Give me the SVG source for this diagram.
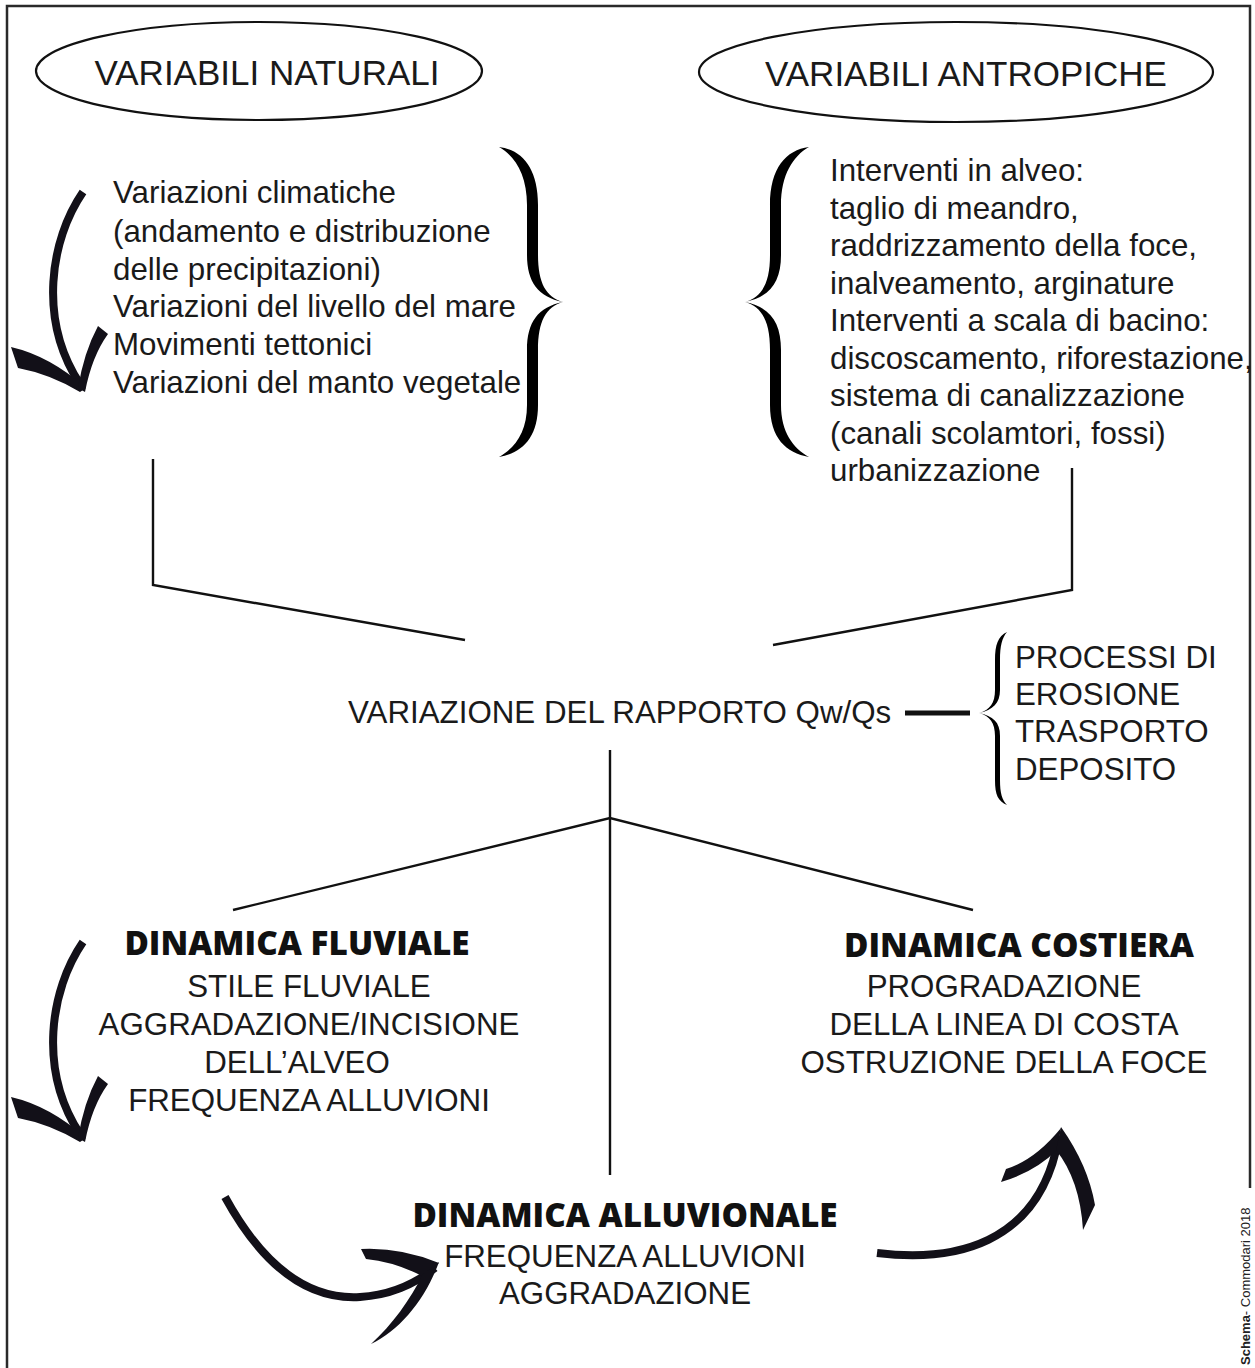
<svg xmlns="http://www.w3.org/2000/svg" width="1255" height="1368" viewBox="0 0 1255 1368">
<style>
.t{font-family:"Liberation Sans",Arial,sans-serif;font-size:31.3px;fill:#1a1a1a}
.c{text-anchor:middle}
.h{font-family:"Open Sans","Liberation Sans",sans-serif;font-weight:800;font-size:33.3px;fill:#111;text-anchor:middle}
.big{font-family:"Liberation Sans",Arial,sans-serif;font-size:35px;fill:#1a1a1a;text-anchor:middle}
.ln{fill:none;stroke:#111;stroke-width:2.4}
.ar{fill:#121018}
.sh{fill:none;stroke:#121018;stroke-width:8}
.br{fill:#000}
</style>
<rect width="1255" height="1368" fill="#fff"/>
<path d="M7 1368 V6 H1250 V1188" fill="none" stroke="#2a2a2a" stroke-width="2.5"/>

<g id="node-naturali">
<ellipse cx="259" cy="71" rx="223" ry="49" fill="none" stroke="#111" stroke-width="2.2"/>
<text class="big" x="267" y="85">VARIABILI NATURALI</text>
</g>
<g id="node-antropiche">
<ellipse cx="956" cy="72" rx="257" ry="50" fill="none" stroke="#111" stroke-width="2.2"/>
<text class="big" x="966" y="86" font-size="37">VARIABILI ANTROPICHE</text>
</g>

<g id="node-naturali-list">
<text class="t" x="113" y="203">Variazioni climatiche</text>
<text class="t" x="113" y="242">(andamento e distribuzione</text>
<text class="t" x="113" y="280">delle precipitazioni)</text>
<text class="t" x="113" y="317">Variazioni del livello del mare</text>
<text class="t" x="113" y="355">Movimenti tettonici</text>
<text class="t" x="113" y="393">Variazioni del manto vegetale</text>
<path class="br" d="M499 147 C522 150 538 168 538 205 L538 255 C538 283 546 297 563 302 C546 307 538 321 538 350 L538 405 C538 438 522 453 499 457 C515 448 527 432 527 405 L527 350 C527 322 538 307 563 302 C538 297 527 282 527 255 L527 205 C527 175 515 156 499 147 Z"/>
<g id="arrow-naturali">
<path class="sh" d="M83 192 C50 240 38 320 80 384"/>
<path class="ar" d="M11 347 Q50 356 86 388 L80 392 Q50 374 18 368 Z"/>
<path class="ar" d="M98 326 L108 334 Q92 356 85 392 L78 388 Q84 352 98 326 Z"/>
</g>
</g>

<g id="node-antropiche-list">
<text class="t" x="830" y="181">Interventi in alveo:</text>
<text class="t" x="830" y="219">taglio di meandro,</text>
<text class="t" x="830" y="256">raddrizzamento della foce,</text>
<text class="t" x="830" y="294">inalveamento, arginature</text>
<text class="t" x="830" y="331">Interventi a scala di bacino:</text>
<text class="t" x="830" y="369">discoscamento, riforestazione,</text>
<text class="t" x="830" y="406">sistema di canalizzazione</text>
<text class="t" x="830" y="444">(canali scolamtori, fossi)</text>
<text class="t" x="830" y="481">urbanizzazione</text>
<path class="br" transform="translate(1308,0) scale(-1,1)" d="M499 147 C522 150 538 168 538 205 L538 255 C538 283 546 297 563 302 C546 307 538 321 538 350 L538 405 C538 438 522 453 499 457 C515 448 527 432 527 405 L527 350 C527 322 538 307 563 302 C538 297 527 282 527 255 L527 205 C527 175 515 156 499 147 Z"/>
</g>

<g id="node-rapporto">
<text class="t" x="348" y="723">VARIAZIONE DEL RAPPORTO Qw/Qs</text>
</g>

<g id="node-processi">
<path class="br" d="M1007 632 C998 636 995 645 995 660 L995 690 C995 703 990 710 979 713 C990 716 995 723 995 736 L995 780 C995 795 998 801 1007 805 C1002 800 1000 793 1000 780 L1000 736 C1000 722 993 716 979 713 C993 710 1000 703 1000 690 L1000 660 C1000 646 1002 638 1007 632 Z"/>
<text class="t" x="1015" y="668">PROCESSI DI</text>
<text class="t" x="1015" y="705">EROSIONE</text>
<text class="t" x="1015" y="742">TRASPORTO</text>
<text class="t" x="1015" y="780">DEPOSITO</text>
</g>

<g id="node-fluviale">
<text class="h" x="297" y="955">DINAMICA FLUVIALE</text>
<text class="t c" x="309" y="997">STILE FLUVIALE</text>
<text class="t c" x="309" y="1035">AGGRADAZIONE/INCISIONE</text>
<text class="t c" x="297" y="1073">DELL’ALVEO</text>
<text class="t c" x="309" y="1111">FREQUENZA ALLUVIONI</text>
<g id="arrow-fluviale" transform="translate(0,750)">
<path class="sh" d="M83 192 C50 240 38 320 80 384"/>
<path class="ar" d="M11 347 Q50 356 86 388 L80 392 Q50 374 18 368 Z"/>
<path class="ar" d="M98 326 L108 334 Q92 356 85 392 L78 388 Q84 352 98 326 Z"/>
</g>
</g>

<g id="node-costiera">
<text class="h" x="1019" y="957">DINAMICA COSTIERA</text>
<text class="t c" x="1004" y="997">PROGRADAZIONE</text>
<text class="t c" x="1004" y="1035">DELLA LINEA DI COSTA</text>
<text class="t c" x="1004" y="1073">OSTRUZIONE DELLA FOCE</text>
</g>

<g id="node-alluvionale">
<text class="h" x="625" y="1227">DINAMICA ALLUVIONALE</text>
<text class="t c" x="625" y="1267">FREQUENZA ALLUVIONI</text>
<text class="t c" x="625" y="1304">AGGRADAZIONE</text>
</g>

<g id="arrow-to-alluvionale">
<path class="sh" stroke-width="7" d="M225 1197 C265 1270 310 1300 360 1297 C395 1295 420 1280 435 1268"/>
<path class="ar" d="M361 1249 Q400 1247 439 1263 L422 1276 Q395 1262 366 1259 Z"/>
<path class="ar" d="M371 1344 C400 1330 425 1300 439 1262 L423 1274 C410 1300 392 1325 371 1344 Z"/>
</g>

<g id="arrow-to-costiera">
<path class="sh" d="M877 1253 C950 1262 1040 1248 1059 1136"/>
<path class="ar" d="M1006 1169 Q1035 1160 1061 1128 L1057 1150 Q1035 1172 1001 1182 Z"/>
<path class="ar" d="M1061 1127 Q1088 1165 1095 1205 L1083 1230 Q1080 1180 1056 1150 Z"/>
</g>

<g id="connectors">
<path class="ln" d="M153 459 V585 L465 640"/>
<path class="ln" d="M1072 468 V590 L773 645"/>
<path class="ln" d="M610 750 V1175"/>
<path class="ln" d="M233 910 L610 818 L973 910"/>
<path fill="none" stroke="#111" stroke-width="5" d="M905 713 H970"/>
</g>

<text transform="translate(1250,1365) rotate(-90)" font-family="'Liberation Sans',Arial,sans-serif" font-size="13" fill="#222"><tspan font-weight="700">Schema</tspan>- Commodari  2018</text>
</svg>
